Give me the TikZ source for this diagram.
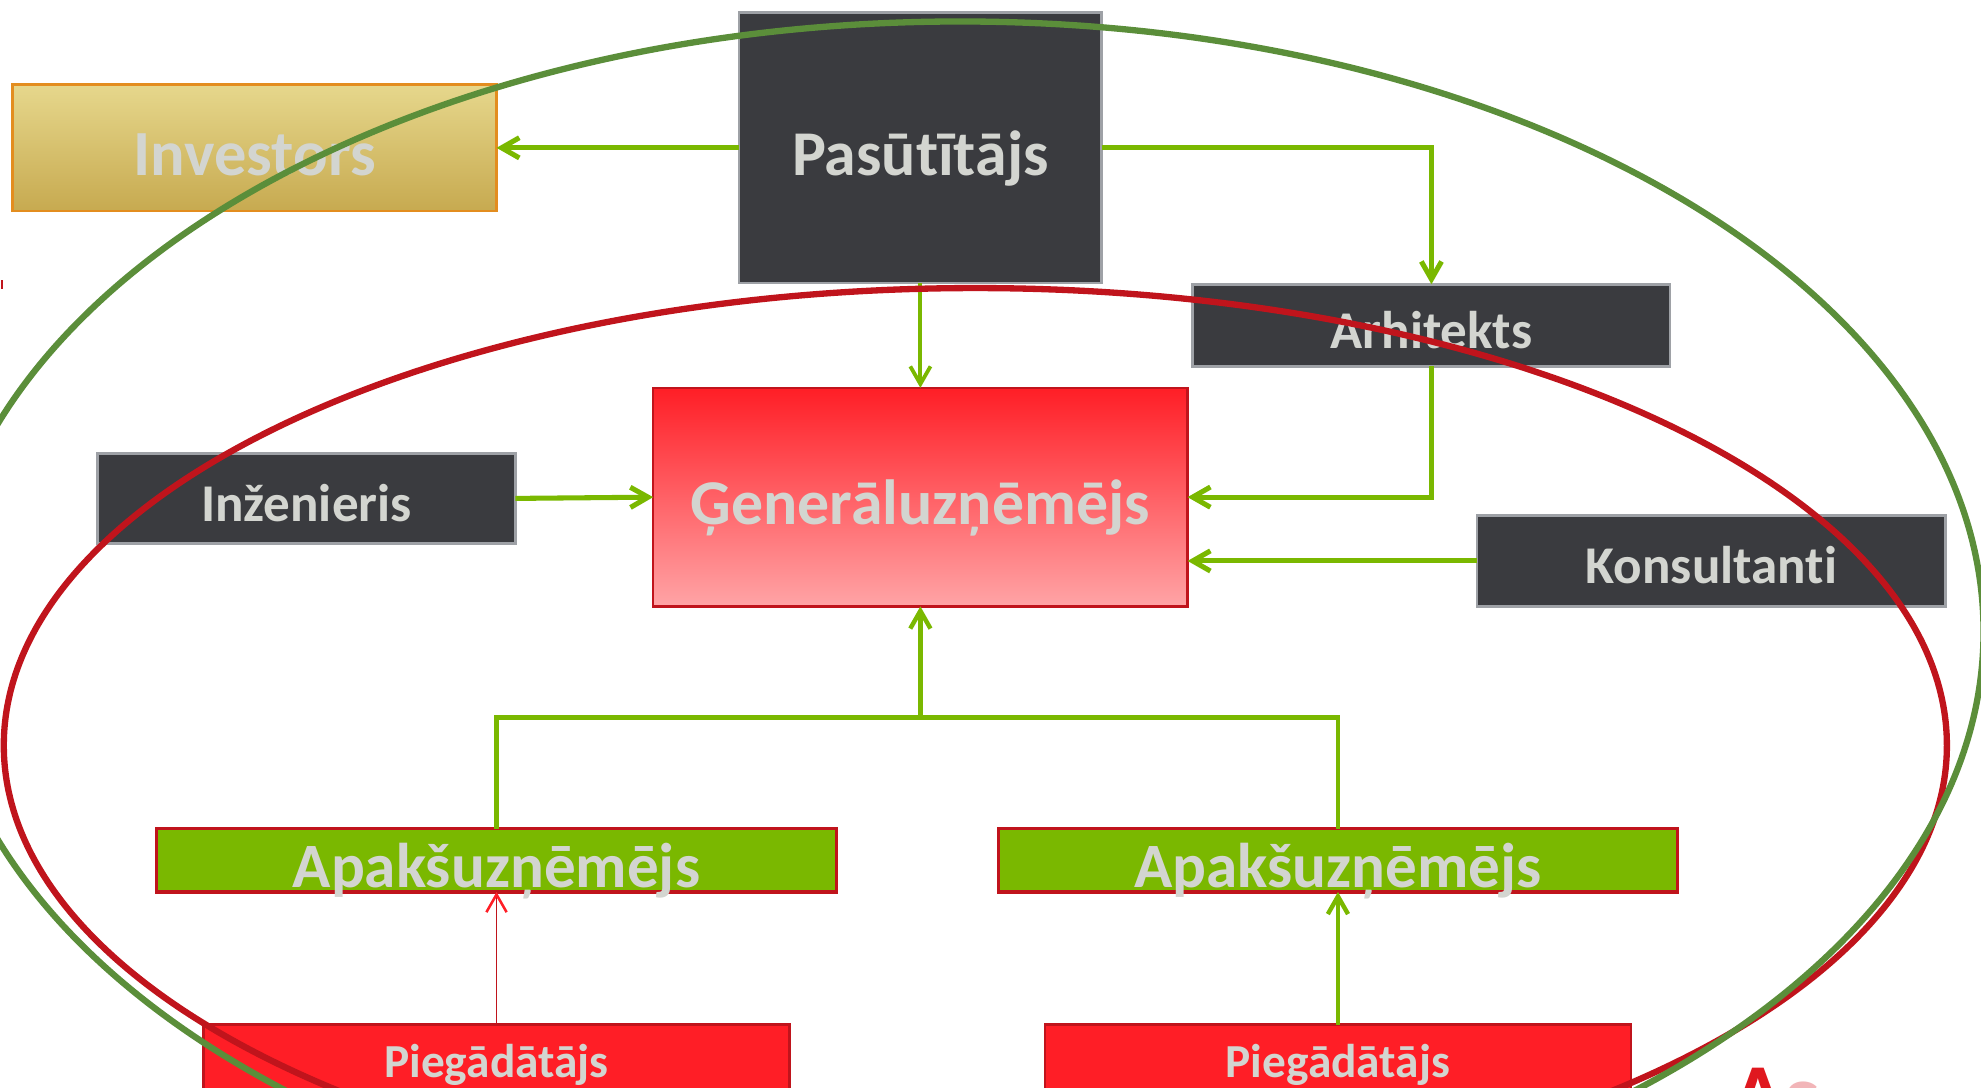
\documentclass[tikz,border=0pt]{standalone}
\usepackage{fontspec}
\setmainfont{Carlito}[Ligatures=NoCommon]
\usepackage{xcolor}
\usepackage{tikz}
\usetikzlibrary{arrows.meta,positioning}

\definecolor{darkbox}{HTML}{3A3B3F}
\definecolor{greyline}{HTML}{9EA1A6}
\definecolor{lighttext}{HTML}{D3D5D0}
\definecolor{leafgreen}{HTML}{7AB800}
\definecolor{olivegreen}{HTML}{5B8E3A}
\definecolor{darkred}{HTML}{C0141C}
\definecolor{brightred}{HTML}{FF1E26}
\definecolor{palered}{HTML}{FFA4A6}
\definecolor{goldtop}{HTML}{E6D78C}
\definecolor{goldbottom}{HTML}{C7AA50}
\definecolor{orangeline}{HTML}{E38D1F}
\definecolor{logored}{HTML}{E0181F}
\definecolor{logopink}{HTML}{F2B5B8}

\begin{document}
\begin{tikzpicture}[x=1pt, y=-1pt,
fsize/.style={font=\bfseries\fontsize{#1}{#1}\selectfont, text height={0.86*#1pt}, text depth=0pt},
darknode/.style={rectangle, draw=greyline, fill=darkbox, line width=2pt, inner sep=0pt, outer sep=0pt, text=lighttext, fsize=42},
goldnode/.style={rectangle, draw=orangeline, top color=goldtop, bottom color=goldbottom, line width=2pt, inner sep=0pt, outer sep=0pt, text=lighttext, fsize=51},
rednode/.style={rectangle, draw=darkred, top color=brightred, bottom color=palered, line width=2pt, inner sep=0pt, outer sep=0pt, text=lighttext, fsize=50.5},
greennode/.style={rectangle, draw=darkred, fill=leafgreen, line width=2.5pt, inner sep=0pt, outer sep=0pt, text=lighttext, fsize=50, minimum width=538pt, minimum height=50pt},
supplynode/.style={rectangle, draw=darkred, fill=brightred, line width=2pt, inner sep=0pt, outer sep=0pt, text=lighttext, fsize=37.5, minimum width=464pt, minimum height=52pt},
greenline/.style={draw=leafgreen, line width=4pt},
arrowline/.style={greenline, -{Straight Barb[length=14pt, width=16pt]}},
ring/.style={line width=5pt},
]
\useasboundingbox (0,0) rectangle (1568,861);

%Nodes
\node[darknode, minimum width=287pt, minimum height=214pt, fsize=50.5] (pasutitajs) at (728.5,117) {Pasūtītājs};
\node[goldnode, minimum width=383pt, minimum height=100pt] (investors) [left=192pt of pasutitajs] {Investors};
\node[rednode, minimum width=423pt, minimum height=173pt] (generaluznemejs) [below=83pt of pasutitajs] {Ģenerāluzņēmējs};
\node[darknode, minimum width=378pt, minimum height=65pt] (arhitekts) [above right=17pt and 4pt of generaluznemejs.north east] {Arhitekts};
\node[darknode, minimum width=331pt, minimum height=71pt] (inzenieris) [left=109pt of generaluznemejs, yshift=-1pt] {Inženieris};
\node[darknode, minimum width=371pt, minimum height=72pt] (konsultanti) [above right=0pt and 229pt of generaluznemejs.south east] {Konsultanti};
\node[greennode] (apaksleft) [below left=176pt and 66.5pt of generaluznemejs.south] {Apakšuzņēmējs};
\node[greennode] (apaksright) [below right=176pt and 61.5pt of generaluznemejs.south] {Apakšuzņēmējs};
\node[supplynode] (piegadleft) [below=105pt of apaksleft] {Piegādātājs};
\node[supplynode] (piegadright) [below=105pt of apaksright] {Piegādātājs};
\node[inner sep=0pt, anchor=north west, text=logored, font=\bfseries\fontsize{70}{70}\selectfont] (logo) at (1370,845) {A\textcolor{logopink}{s}};
\coordinate[below=88pt of generaluznemejs.south] (bus);

%Lines
\draw[arrowline] (pasutitajs.west) -- (investors.east);
\draw[arrowline] (pasutitajs.east) -| (arhitekts.north);
\draw[arrowline, line width=3pt] (pasutitajs.south) -- (generaluznemejs.north);
\draw[arrowline] (arhitekts.south) |- (generaluznemejs.east);
\draw[arrowline] (konsultanti.west) -- (konsultanti.west -| generaluznemejs.east);
\draw[arrowline] (inzenieris.east) -- (generaluznemejs.west);
\draw[greenline, line width=3.5pt] (apaksleft.north) |- (bus) -| (apaksright.north);
\draw[arrowline, line width=3.5pt] (bus) -- (generaluznemejs.south);
\draw[darkred, line width=0.8pt, -{Straight Barb[length=14pt, width=16pt, line width=2pt, color=brightred]}] (piegadleft.north) -- (apaksleft.south);
\draw[arrowline, line width=3.5pt] (piegadright.north) -- (apaksright.south);

%Rings
\draw[ring, darkred] (772,590) ellipse [x radius=769pt, y radius=362pt];
\draw[ring, olivegreen] (760,500) ellipse [x radius=810pt, y radius=483pt];
\draw[darkred, line width=1pt] (1.5,222) -- (1.5,229);
\end{tikzpicture}
\end{document}
